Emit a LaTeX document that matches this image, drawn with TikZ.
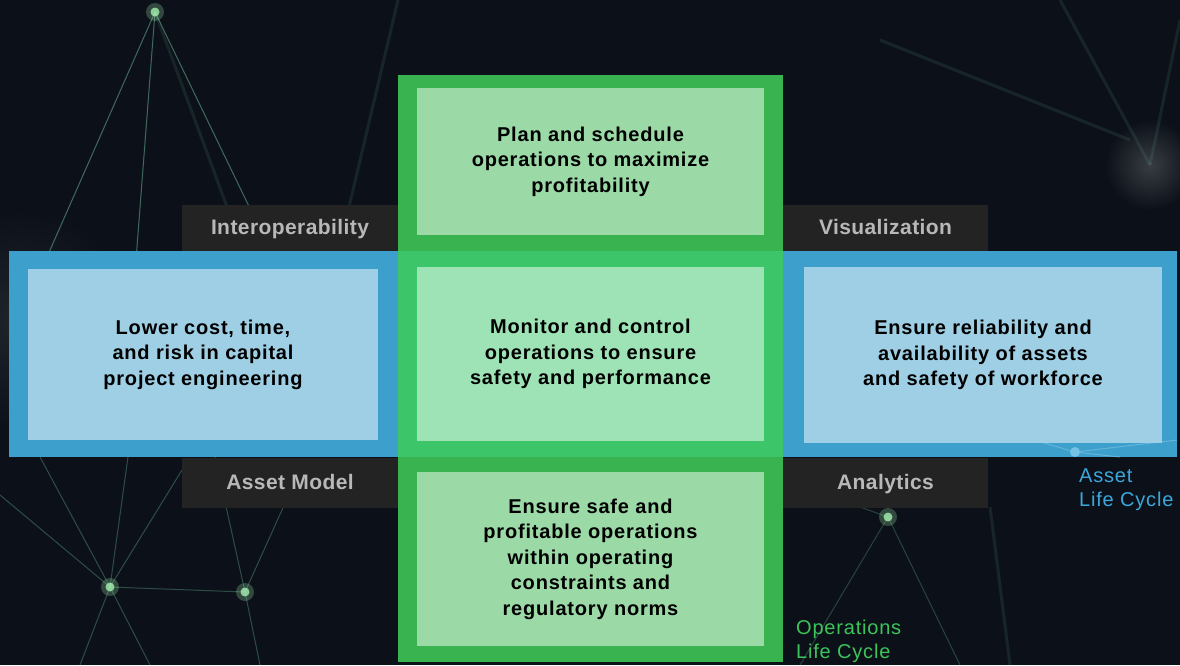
\documentclass[tikz,border=0pt]{standalone}
\usepackage{fontspec}
\setmainfont{Liberation Sans}[LetterSpace=4]
\newfontfamily\tabfont{Liberation Sans}[LetterSpace=2]
\usetikzlibrary{positioning}
\definecolor{bgnavy}{HTML}{0C1119}
\definecolor{bandblue}{HTML}{3D9FCC}
\definecolor{boxblue}{HTML}{9ECFE5}
\definecolor{bandgreen}{HTML}{38B34F}
\definecolor{crossgreen}{HTML}{3DC569}
\definecolor{boxgreen}{HTML}{9BD9A7}
\definecolor{boxmint}{HTML}{9EE3B5}
\definecolor{tabgray}{HTML}{232323}
\definecolor{tabtext}{HTML}{B8B8B8}
\definecolor{lifeblue}{HTML}{3AA8DC}
\definecolor{lifegreen}{HTML}{3CC35A}
\definecolor{netline}{HTML}{7FD6B0}
\definecolor{netglow}{HTML}{A6F0B0}

\begin{document}
\begin{tikzpicture}[x=1pt,y=-1pt,
		goalbox/.style={inner sep=0pt, align=center, text=black, minimum width=347,
			font=\fontsize{20}{25.5}\selectfont\bfseries},
		tabbox/.style={fill=tabgray, inner sep=0pt, minimum width=216, text=tabtext,
			text height=15.5pt, text depth=3pt,
			font=\tabfont\fontsize{21}{24}\selectfont\bfseries},
		lifelabel/.style={inner sep=0pt, align=left, anchor=west,
			font=\fontsize{20}{24}\selectfont},
		netwire/.style={draw=netline, line width=1pt, opacity=.45},
		faintwire/.style={draw=netline, line width=3pt, opacity=.1}]
		\useasboundingbox (0,0) rectangle (1180,665);
		% dark backdrop
		\fill[bgnavy] (0,0) rectangle (1180,665);
		\shade[inner color=white!18!bgnavy, outer color=bgnavy] (1150,165) circle (45);
		\shade[inner color=white!8!bgnavy, outer color=bgnavy] (20,320) circle (110);
		% the network behind
		\coordinate (hubA) at (155,12);
		\coordinate (hubB) at (258,225);
		\coordinate (hubC) at (110,587);
		\coordinate (hubD) at (245,592);
		\coordinate (hubE) at (888,517);
		\coordinate (hubF) at (1075,452);
		\foreach \p in {(28,300),(136,260),(258,225)}
			\draw[netwire] (hubA) -- \p;
		\draw[faintwire] (hubA) -- (230,215);
		\draw[faintwire] (398,0) -- (340,245);
		\draw[netwire] (hubB) -- (330,251);
		\draw[netwire] (hubB) -- (236,251);
		\foreach \p in {(0,495),(40,457),(128,457),(182,470),(hubD),(80,665),(150,665)}
			\draw[netwire, opacity=.3] (hubC) -- \p;
		\foreach \p in {(215,457),(300,470),(260,665)}
			\draw[netwire, opacity=.3] (hubD) -- \p;
		\foreach \p in {(860,507),(800,665),(960,665)}
			\draw[netwire, opacity=.25] (hubE) -- \p;
		\draw[faintwire] (990,507) -- (1010,665);
		\draw[faintwire] (1060,0) -- (1150,165);
		\draw[faintwire] (880,40) -- (1130,140);
		\draw[faintwire] (1180,20) -- (1150,165);
		\foreach \p in {(hubA),(hubB),(hubC),(hubD),(hubE)}{
			\fill[netglow, opacity=.25] \p circle (9);
			\fill[netglow, opacity=.8] \p circle (4.5);
		}
		% the two bands
		\fill[bandblue] (9,251) rectangle (1177,457);
		\fill[bandgreen] (398,75) rectangle (783,662);
		\fill[crossgreen] (398,251) rectangle (783,457);
		\foreach \p in {(1000,430),(1177,440),(1120,457)}
			\draw[netwire, draw=lifeblue!60!white, opacity=.5] (hubF) -- \p;
		\fill[lifeblue!70!white] (hubF) circle (5);
		% the tabs
		\node[tabbox, minimum height=46] (interop) at (290,228) {Interoperability};
		\node[tabbox, minimum width=205, minimum height=46] (visual) at (885.5,228) {Visualization};
		\node[tabbox, minimum height=50] (assetmodel) at (290,483) {Asset Model};
		\node[tabbox, minimum width=205, minimum height=50] (analytics) at (885.5,483) {Analytics};
		% the goals
		\node[goalbox, fill=boxgreen, minimum height=147] (plan) at (590.5,161.5)
			{Plan and schedule\\operations to maximize\\profitability};
		\node[goalbox, fill=boxmint, minimum height=174] (monitor) at (590.5,354)
			{Monitor and control\\operations to ensure\\safety and performance};
		\node[goalbox, fill=boxgreen, minimum height=174] (safeops) at (590.5,559)
			{Ensure safe and\\profitable operations\\within operating\\constraints and\\regulatory norms};
		\node[goalbox, fill=boxblue, minimum width=350, minimum height=171] (capital) at (203,354.5)
			{Lower cost, time,\\and risk in capital\\project engineering};
		\node[goalbox, fill=boxblue, minimum width=358, minimum height=176] (reliab) at (983,355)
			{Ensure reliability and\\availability of assets\\and safety of workforce};
		% life cycle captions
		\node[lifelabel, text=lifeblue] (assetlc) at (1079,490) {Asset\\Life Cycle};
		\node[lifelabel, text=lifegreen] (opslc) at (796,641.5) {Operations\\Life Cycle};
\end{tikzpicture}
\end{document}
